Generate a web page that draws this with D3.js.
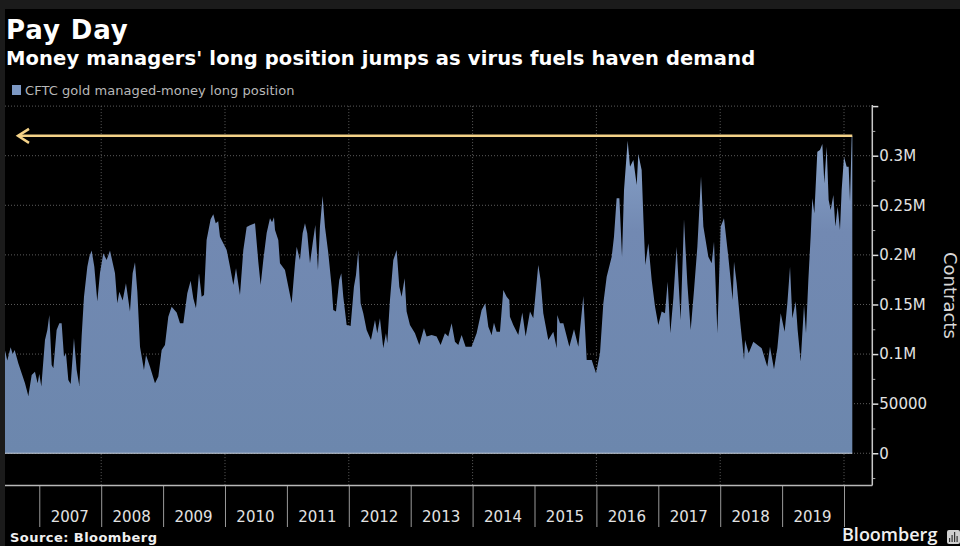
<!DOCTYPE html>
<html>
<head>
<meta charset="utf-8">
<script src="https://cdn.jsdelivr.net/npm/d3@7"></script>
<style>
  html, body { margin: 0; padding: 0; background: #000; overflow: hidden; }
  text { font-family: "DejaVu Sans", sans-serif; }
  .axis path { display: none; }
</style>
</head>
<body>
<div id="chart"></div>
<script>
// turning points of the weekly series (decimal year, thousand contracts)
var years = [
  2006.446,2006.483,2006.537,2006.570,2006.602,2006.661,2006.715,2006.769,2006.823,2006.877,2006.930,2006.973,
  2007.000,2007.033,2007.092,2007.130,2007.162,2007.200,2007.227,2007.280,2007.324,2007.361,2007.399,2007.431,
  2007.469,2007.507,2007.560,2007.604,2007.647,2007.684,2007.722,2007.776,2007.808,2007.846,2007.889,2007.937,2007.980,
  2008.034,2008.088,2008.142,2008.223,2008.260,2008.293,2008.347,2008.400,2008.465,2008.508,2008.546,2008.584,
  2008.627,2008.691,2008.724,2008.788,2008.869,2008.923,2008.977,
  2009.030,2009.084,2009.138,2009.219,2009.273,2009.327,2009.391,2009.445,2009.488,2009.531,2009.580,2009.623,
  2009.661,2009.703,2009.768,2009.811,2009.850,2009.890,2009.919,
  2010.027,2010.081,2010.135,2010.178,2010.242,2010.296,2010.350,2010.404,2010.485,2010.538,2010.576,2010.619,
  2010.673,2010.727,2010.760,2010.791,2010.808,2010.861,2010.888,2010.969,
  2011.077,2011.131,2011.158,2011.211,2011.254,2011.292,2011.329,2011.373,2011.416,2011.459,2011.502,2011.534,
  2011.577,2011.615,2011.669,2011.723,2011.749,2011.793,2011.846,2011.879,2011.911,2011.965,
  2012.029,2012.083,2012.116,2012.153,2012.191,2012.234,2012.288,2012.358,2012.423,2012.460,2012.503,2012.557,
  2012.600,2012.622,2012.665,2012.719,2012.773,2012.816,2012.853,2012.902,2012.934,2012.988,
  2013.069,2013.139,2013.214,2013.257,2013.338,2013.419,2013.483,2013.553,2013.607,2013.661,2013.715,2013.769,
  2013.823,2013.887,2013.984,
  2014.065,2014.146,2014.205,2014.254,2014.307,2014.345,2014.388,2014.442,2014.496,2014.550,2014.593,2014.603,
  2014.657,2014.738,2014.803,2014.857,2014.927,2014.980,
  2015.061,2015.099,2015.142,2015.223,2015.304,2015.358,2015.368,2015.412,2015.466,2015.563,2015.638,2015.708,
  2015.789,2015.843,2015.924,2015.994,
  2016.058,2016.112,2016.166,2016.247,2016.284,2016.327,2016.371,2016.414,2016.446,2016.505,2016.543,2016.597,
  2016.651,2016.677,2016.731,2016.758,2016.790,2016.839,2016.893,2016.947,
  2017.000,2017.054,2017.108,2017.151,2017.194,2017.243,2017.296,2017.361,2017.415,2017.469,2017.523,2017.577,
  2017.631,2017.690,2017.728,2017.808,2017.862,2017.900,2017.954,
  2018.008,2018.061,2018.131,2018.201,2018.223,2018.266,2018.320,2018.385,2018.401,2018.460,2018.535,2018.670,
  2018.761,2018.804,2018.869,2018.923,2018.977,
  2019.041,2019.085,2019.128,2019.165,2019.219,2019.251,2019.300,2019.354,2019.386,2019.424,2019.461,2019.488,
  2019.521,2019.569,2019.612,2019.650,2019.682,2019.720,2019.752,2019.785,2019.828,2019.860,2019.898,2019.935,2019.962,
  2020.000,2020.043,2020.075,2020.097,2020.124,2020.134
];
var longPosition = [
  103.5,93.4,106.8,100.1,104.1,90.7,80.6,70.5,57.8,78.9,82.3,70.5,
  79.9,67.2,114.2,124.3,139.4,89.0,85.7,124.3,131,131,97.4,100.8,
  73.9,69.9,115.9,84,67.8,117.6,157.9,188.1,198.2,204.3,188.1,152.9,181.4,
  201.6,194.9,204.3,181.4,151.2,162.9,153.9,171.3,142.8,181.4,192.5,162.9,
  107.5,84,99.1,87.3,70.5,77.3,104.1,
  109.2,137.7,147.8,141.8,131,131,161.3,174,156.2,146.1,181.4,157.9,
  159.6,215,236,241,232,234,218.4,
  205,188.1,169.7,186.5,159.6,205,228,230,232,193.2,169.7,194.9,
  222,237,233,238,225,215,191.5,184.8,
  151.2,191.5,208.3,194.8,221.7,231.8,221.7,191.5,211.6,230.1,184.8,228.4,
  259.4,228.4,201.6,168,144.4,142.8,174.7,181.4,157.9,129.3,
  128.3,168,179.7,204.9,151.2,141.1,124.3,114.2,134.4,120.9,136,105.8,
  120.9,110.8,154.5,194.8,204.9,168,157.9,176.4,142.8,129.3,
  120.9,109.2,126,117.6,119.2,117.6,109.2,120.9,117.6,131,112.5,109.2,
  119.2,107.5,107.5,
  120.9,144.4,151.2,127.6,119.2,131.7,122.6,122.6,164.6,157.9,154.5,137.7,
  129.3,119.2,141.8,117.6,142.8,136,
  189.8,174.7,141.1,114.2,122.6,105.8,139.4,131,131,107.5,125,107.5,
  158.6,94.1,94.1,80.6,
  100.8,151.2,178,198.2,218.4,257,257,198.2,265.4,315.1,288.9,295.7,
  270.5,301.7,285.6,238.5,189.8,211.7,174.7,147.8,
  129.3,142.8,141.1,173,120.9,156.2,208.3,134.4,235.9,171.3,124.3,164.6,
  208.3,278.9,228.5,198.2,191.5,213.3,120.9,
  228.5,236.9,198.2,154.5,193.2,171.3,134.4,94.1,114.2,100.8,112.5,105.8,
  87.3,107.5,84.6,105.8,141.1,
  122.6,151.2,188.1,136.1,152.9,124.3,92.4,149.5,120.9,174.7,218.4,257,
  241.9,304.1,305.7,311.8,272.1,309.1,255.3,245.3,260.4,228.5,248.6,225.1,265.4,
  299,288.9,288.9,253.7,319.2,320
];
var yearTicks = [2007, 2008, 2009, 2010, 2011, 2012, 2013, 2014, 2015, 2016, 2017, 2018, 2019, 2020];
var gridYears = [2008, 2010, 2012, 2014, 2016, 2018, 2020];
var yMajor = [0, 50000, 100000, 150000, 200000, 250000, 300000, 350000];
var yLabels = ['0', '50000', '0.1M', '0.15M', '0.2M', '0.25M', '0.3M', ''];
var yMinor = [-25000, 25000, 75000, 125000, 175000, 225000, 275000, 325000];
var peakLevel = 320000;

var width = 960;
var height = 546;

var svg = d3.select('#chart').append('svg')
    .attr('width', width)
    .attr('height', height)
    .style('display', 'block');

// dark frame of the screenshot
svg.append('rect').attr('width', width).attr('height', height).attr('fill', '#000');
svg.append('rect').attr('width', width).attr('height', 9).attr('fill', '#1b1b1b');
svg.append('rect').attr('width', 5).attr('height', height).attr('fill', '#1b1b1b');

var x = d3.scaleLinear().domain([2006.446, 2020.457]).range([5, 872.3]);
var y = d3.scaleLinear().domain([-32500, 350000]).range([485.5, 106.1]);

var defs = svg.append('defs');
var grad = defs.append('linearGradient')
    .attr('id', 'areaFill')
    .attr('gradientUnits', 'userSpaceOnUse')
    .attr('x1', 0).attr('x2', 0)
    .attr('y1', y(320000)).attr('y2', y(0));
grad.append('stop').attr('offset', '0%').attr('stop-color', '#89a4ca');
grad.append('stop').attr('offset', '30%').attr('stop-color', '#7289b2');
grad.append('stop').attr('offset', '100%').attr('stop-color', '#6c87ad');

// grid sits behind the area
svg.append('g').selectAll('line')
    .data(yMajor).enter()
  .append('line')
    .attr('x1', 5).attr('x2', x.range()[1])
    .attr('y1', y).attr('y2', y)
    .attr('stroke', '#5c5c5c')
    .attr('stroke-dasharray', '1,2');
svg.append('g').selectAll('line')
    .data(gridYears).enter()
  .append('line')
    .attr('x1', x).attr('x2', x)
    .attr('y1', y(350000)).attr('y2', y.range()[0])
    .attr('stroke', '#5c5c5c')
    .attr('stroke-dasharray', '1,2');

var points = d3.zip(years, longPosition);
var area = d3.area()
    .x(function(d) { return x(d[0]); })
    .y0(y(0))
    .y1(function(d) { return y(d[1] * 1000); });
svg.append('path').datum(points)
    .attr('d', area)
    .attr('fill', 'url(#areaFill)');
svg.append('line')
    .attr('x1', x(years[0])).attr('x2', x(years[years.length - 1]))
    .attr('y1', y(0)).attr('y2', y(0))
    .attr('stroke', '#c4ccd8');

// peak marker with its arrow to the left
var arrowY = y(peakLevel);
var tipX = 18;
svg.append('line')
    .attr('x1', tipX).attr('x2', x(years[years.length - 1]))
    .attr('y1', arrowY).attr('y2', arrowY)
    .attr('stroke', '#f4d288').attr('stroke-width', 2.5);
svg.append('path')
    .attr('d', d3.line()([[tipX + 11, arrowY - 7], [tipX, arrowY], [tipX + 11, arrowY + 7]]))
    .attr('fill', 'none')
    .attr('stroke', '#f4d288').attr('stroke-width', 2.5);

// right axis
var yAxis = d3.axisRight(y)
    .tickValues(yMajor)
    .tickSize(6)
    .tickPadding(1)
    .tickFormat(function(d, i) { return yLabels[i]; });
var yG = svg.append('g')
    .attr('class', 'axis')
    .attr('transform', 'translate(' + x.range()[1] + ',0)')
    .call(yAxis);
yG.selectAll('line').attr('stroke', '#ddd').attr('stroke-width', 1.5);
yG.selectAll('text')
    .attr('fill', '#e2e2e2')
    .style('font-family', '"DejaVu Sans", sans-serif')
    .style('font-size', '15px');
var yMinorG = svg.append('g')
    .attr('class', 'axis')
    .attr('transform', 'translate(' + x.range()[1] + ',0)')
    .call(d3.axisRight(y).tickValues(yMinor).tickSize(3).tickFormat(''));
yMinorG.selectAll('line').attr('stroke', '#aaa');
svg.append('line')
    .attr('x1', x.range()[1]).attr('x2', x.range()[1])
    .attr('y1', y(350000) - 1).attr('y2', y.range()[0])
    .attr('stroke', '#c8c8c8').attr('stroke-width', 1.5);

// bottom axis, long ticks between the year labels
var xAxis = d3.axisBottom(x)
    .tickValues(yearTicks)
    .tickSize(41.5)
    .tickFormat('');
var xG = svg.append('g')
    .attr('class', 'axis')
    .attr('transform', 'translate(0,' + y.range()[0] + ')')
    .call(xAxis);
xG.selectAll('line').attr('stroke', '#9a9a9a');
svg.append('line')
    .attr('x1', 5).attr('x2', x.range()[1])
    .attr('y1', y.range()[0]).attr('y2', y.range()[0])
    .attr('stroke', '#b8b8b8').attr('stroke-width', 1.5);
svg.append('g').selectAll('text')
    .data(yearTicks.slice(0, -1)).enter()
  .append('text')
    .attr('x', function(d) { return x(d + 0.5) - 0.5; })
    .attr('y', 522)
    .attr('text-anchor', 'middle')
    .attr('fill', '#e2e2e2')
    .style('font-size', '15px')
    .text(function(d) { return d; });

// titles and legend
svg.append('text')
    .attr('x', 6).attr('y', 39)
    .attr('fill', '#fff')
    .style('font-size', '26px')
    .style('font-weight', 'bold')
    .style('letter-spacing', '0.9px')
    .text('Pay Day');
svg.append('text')
    .attr('x', 6).attr('y', 65)
    .attr('fill', '#fff')
    .style('font-size', '19.5px')
    .style('font-weight', 'bold')
    .style('letter-spacing', '0.14px')
    .text("Money managers' long position jumps as virus fuels haven demand");
svg.append('rect')
    .attr('x', 12).attr('y', 85)
    .attr('width', 9).attr('height', 10)
    .attr('fill', '#7d98c4');
svg.append('text')
    .attr('x', 25).attr('y', 95)
    .attr('fill', '#b8b8b8')
    .style('font-size', '13px')
    .style('letter-spacing', '0.06px')
    .text('CFTC gold managed-money long position');

svg.append('text')
    .attr('transform', 'translate(944,252) rotate(90)')
    .attr('fill', '#d8d8d8')
    .style('font-size', '18px')
    .text('Contracts');

svg.append('text')
    .attr('x', 10).attr('y', 542)
    .attr('fill', '#f0f0f0')
    .style('font-size', '13px')
    .style('font-weight', 'bold')
    .style('letter-spacing', '0.45px')
    .text('Source: Bloomberg');
svg.append('text')
    .attr('x', 842).attr('y', 541)
    .attr('fill', '#f0f0f0')
    .style('font-size', '18px')
    .style('font-family', '"Open Sans", sans-serif')
    .style('font-weight', '600')
    .text('Bloomberg');

// small logo square next to the wordmark
svg.append('rect')
    .attr('x', 947).attr('y', 530)
    .attr('width', 13).attr('height', 14)
    .attr('rx', 2)
    .attr('fill', '#cfcfcf');
svg.append('g').selectAll('rect')
    .data([4, 7, 10, 6]).enter()
  .append('rect')
    .attr('x', function(d, i) { return 949 + i * 2.5; })
    .attr('y', function(d) { return 542 - d; })
    .attr('width', 1.2)
    .attr('height', function(d) { return d; })
    .attr('fill', '#333');
</script>
</body>
</html>
